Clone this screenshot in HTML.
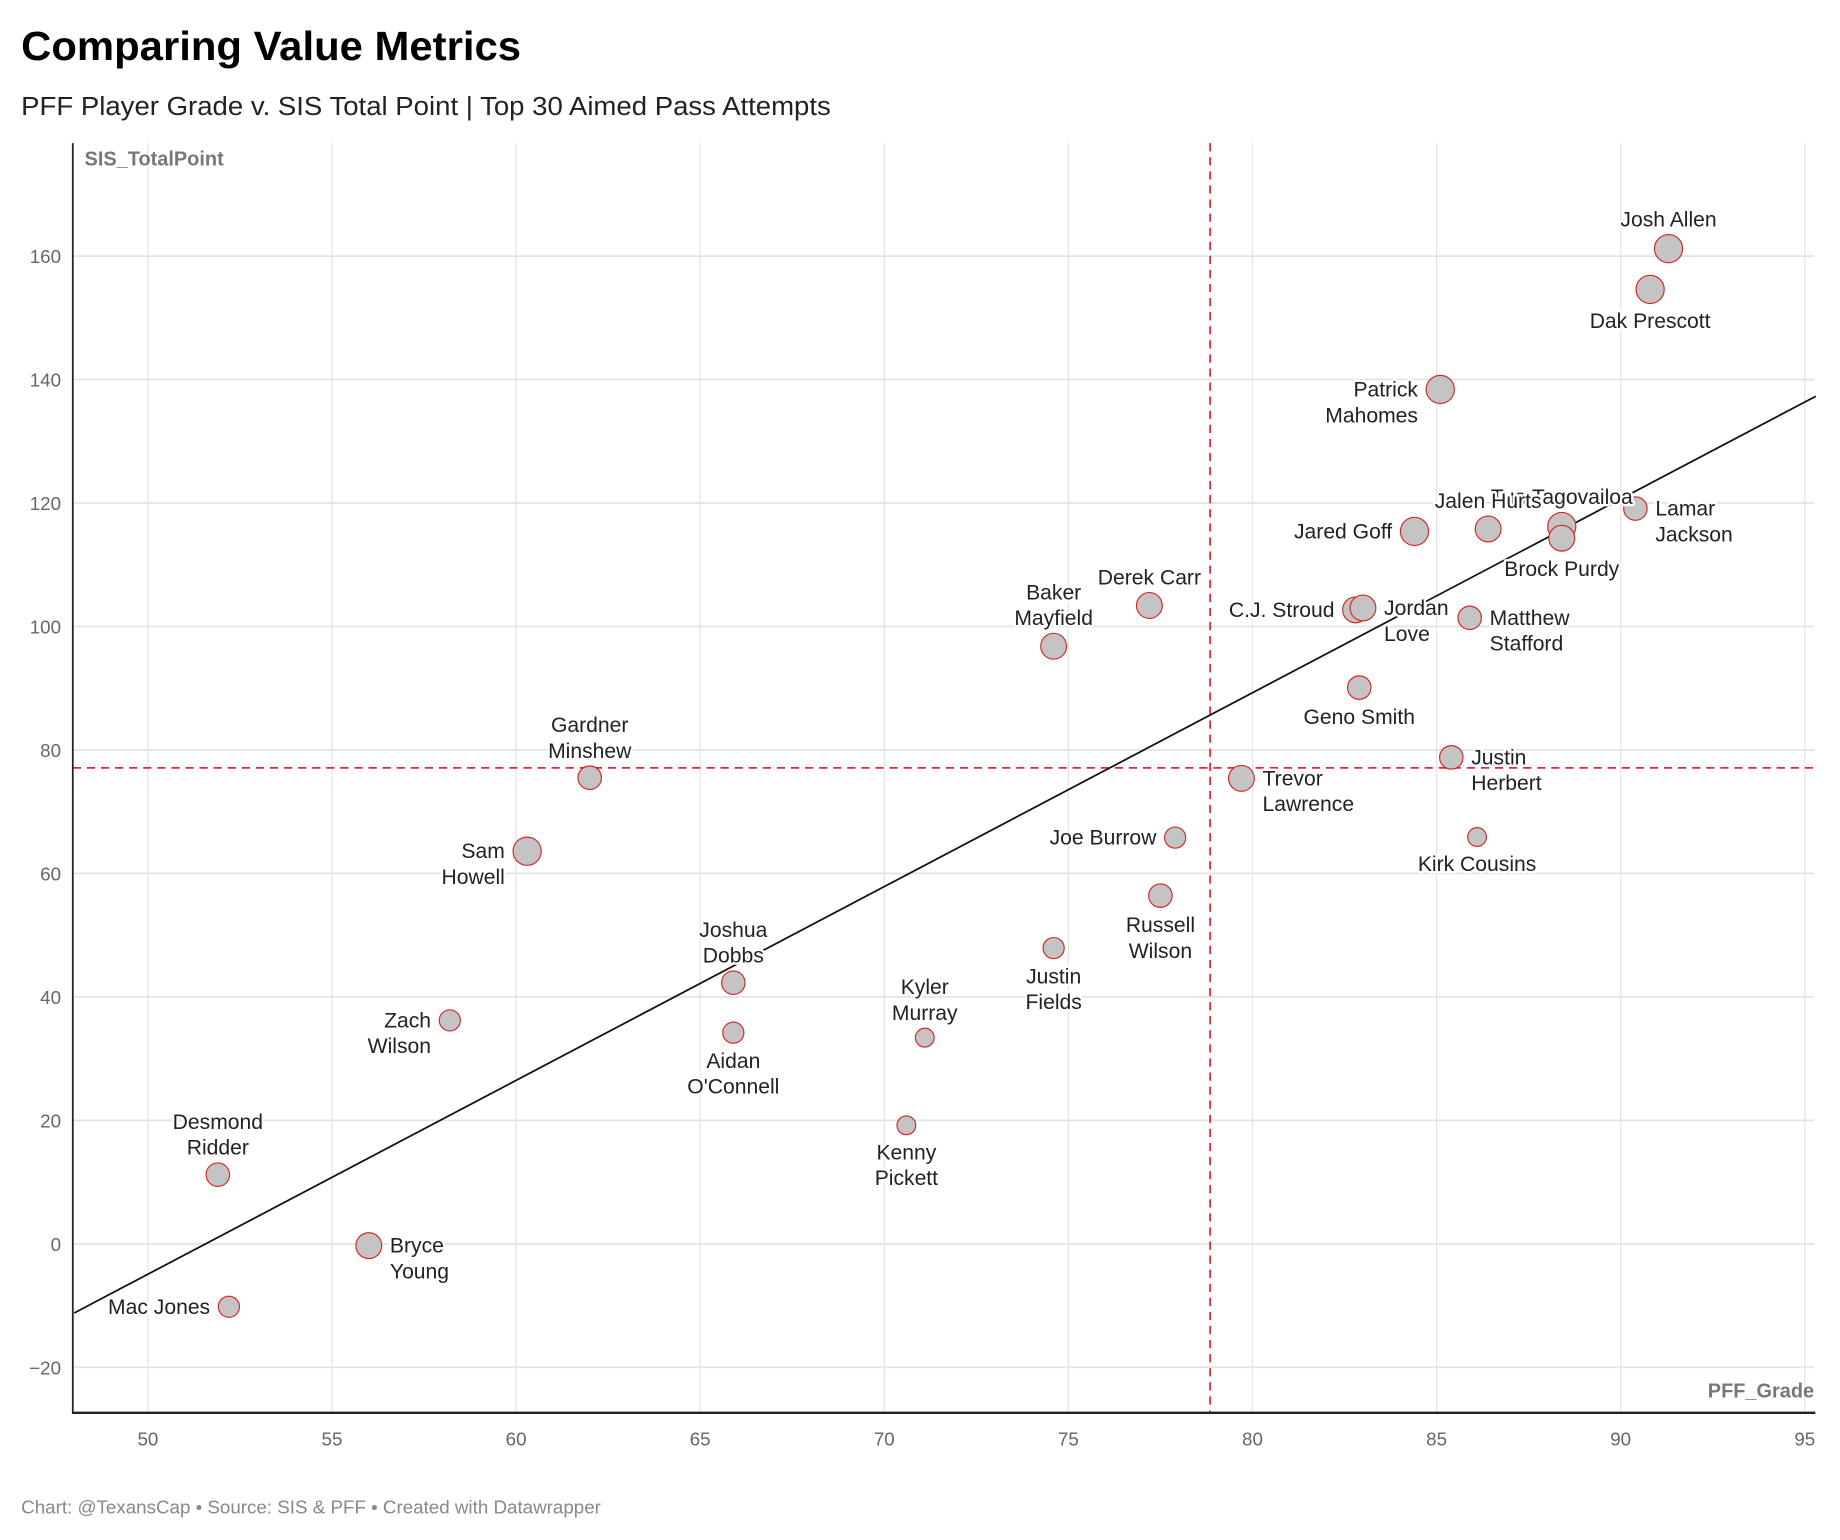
<!DOCTYPE html>
<html><head><meta charset="utf-8"><style>
html,body{margin:0;padding:0;background:#fff;}
svg{display:block;font-family:"Liberation Sans",sans-serif;}
.lbl{font-size:18px;fill:#222;stroke:#fff;stroke-width:4px;paint-order:stroke;stroke-linejoin:round;}
</style></head><body>
<svg id="chart" width="1840" height="1540" viewBox="0 0 1568 1312.4" xmlns="http://www.w3.org/2000/svg">
<text x="18" y="51" font-size="35" font-weight="bold" fill="#000" textLength="426" lengthAdjust="spacingAndGlyphs">Comparing Value Metrics</text>
<text x="18" y="98" font-size="22" fill="#222" textLength="690" lengthAdjust="spacingAndGlyphs">PFF Player Grade v. SIS Total Point | Top 30 Aimed Pass Attempts</text>
<g id="grid"></g>
<g id="refs"></g>
<g id="marks"></g>
<g id="labels"></g>
<line x1="62" y1="122" x2="62" y2="1205" stroke="#222" stroke-width="1.5"/>
<line x1="62" y1="1204" x2="1547" y2="1204" stroke="#222" stroke-width="2"/>
<text x="72" y="141" font-size="17" font-weight="bold" fill="#777">SIS_TotalPoint</text>
<text x="1546" y="1191" font-size="17" font-weight="bold" fill="#777" text-anchor="end">PFF_Grade</text>
<text x="18" y="1290" font-size="16" fill="#888">Chart: @TexansCap • Source: SIS &amp; PFF • Created with Datawrapper</text>
</svg>
<script>
const names = ["Josh Allen","Dak Prescott","Patrick Mahomes","Lamar Jackson","Tua Tagovailoa","Brock Purdy","Jalen Hurts","Jared Goff","C.J. Stroud","Jordan Love","Matthew Stafford","Geno Smith","Justin Herbert","Trevor Lawrence","Kirk Cousins","Derek Carr","Baker Mayfield","Joe Burrow","Russell Wilson","Justin Fields","Kyler Murray","Kenny Pickett","Joshua Dobbs","Aidan O'Connell","Gardner Minshew","Sam Howell","Zach Wilson","Desmond Ridder","Bryce Young","Mac Jones"];
const pffGrade = [91.3,90.8,85.1,90.4,88.4,88.4,86.4,84.4,82.8,83.0,85.9,82.9,85.4,79.7,86.1,77.2,74.6,77.9,77.5,74.6,71.1,70.6,65.9,65.9,62.0,60.3,58.2,51.9,56.0,52.2];
const sisPoints = [161.2,154.6,138.4,119.1,116.2,114.3,115.8,115.4,102.7,103.0,101.4,90.1,78.8,75.4,65.9,103.4,96.8,65.8,56.4,47.9,33.4,19.2,42.3,34.2,75.5,63.6,36.2,11.2,-0.3,-10.2];
const sizes = [12,12,12,10,12,11,11,12,11,11,10,10,10,11,8,11,11,9,10,9,8,8,10,9,10,12,9,10,11,9];
const xTicks = [50,55,60,65,70,75,80,85,90,95];
const yTicks = [-20,0,20,40,60,80,100,120,140,160];
const refX = [78.85];
const refY = [77.1];
const trend = [[48,-11.2],[95.3,137.3]];
// label placement (style): side t=top b=bottom l=left r=right
const labelSide = ["t","b","l","r","t","b","t","l","l","r","r","b","r","r","b","t","t","l","b","b","t","b","t","b","t","l","l","t","r","l"];
const X0=62,X1=1546,Y0=122,Y1=1204;
const xs = v => 126 + (v-50)*31.378;
const ys = v => 1060 - v*5.261;
const NS="http://www.w3.org/2000/svg";
function mk(tag,attrs,parent){const e=document.createElementNS(NS,tag);for(const k in attrs)e.setAttribute(k,attrs[k]);parent.appendChild(e);return e;}
const grid=document.getElementById('grid');
xTicks.forEach(t=>{
  const l=mk('line',{x1:xs(t),x2:xs(t),y1:Y0,y2:Y1,stroke:'#e3e3e3','stroke-width':1},grid);
  
  
  const tx=mk('text',{x:xs(t),y:1232,'font-size':16,fill:'#666','text-anchor':'middle'},grid);
  tx.textContent=t;
  
  
});
yTicks.forEach(t=>{
  const l=mk('line',{x1:X0,x2:X1,y1:ys(t),y2:ys(t),stroke:'#e3e3e3','stroke-width':1.5},grid);
  
  
  const tx=mk('text',{x:52,y:ys(t)+6,'font-size':16,fill:'#666','text-anchor':'end'},grid);
  tx.textContent=t<0?'\u2212'+Math.abs(t):t;
  
  
});
const refs=document.getElementById('refs');
refX.forEach(v=>{
  const l=mk('line',{x1:xs(v),x2:xs(v),y1:Y0,y2:Y1,stroke:'#e8272c','stroke-width':1.5,'stroke-dasharray':'7,5'},refs);
  
  
});
refY.forEach(v=>{
  const l=mk('line',{x1:X0,x2:X1,y1:ys(v),y2:ys(v),stroke:'#e8272c','stroke-width':1.5,'stroke-dasharray':'7,5'},refs);
  
  
});
const tl=mk('line',{x1:xs(trend[0][0]),y1:ys(trend[0][1]),x2:xs(trend[1][0]),y2:ys(trend[1][1]),stroke:'#111','stroke-width':1.5},refs);


const marks=document.getElementById('marks');
names.forEach((n,i)=>{
  const c=mk('circle',{cx:xs(pffGrade[i]),cy:ys(sisPoints[i]),r:sizes[i],fill:'#c4c4c4',stroke:'#d62728','stroke-width':1},marks);
  
  
});
const labels=document.getElementById('labels');
names.forEach((n,i)=>{
  const cx=xs(pffGrade[i]),cy=ys(sisPoints[i]),r=sizes[i],s=labelSide[i];
  const words=n.split(' ');
  let lines=[n];
  if(!["Josh Allen","Dak Prescott","Tua Tagovailoa","Brock Purdy","Jalen Hurts","Jared Goff","C.J. Stroud","Geno Smith","Kirk Cousins","Derek Carr","Joe Burrow","Mac Jones"].includes(n)) lines=[words[0],words.slice(1).join(' ')];
  let x=cx,y,anchor='middle';
  if(s==='t'){y=cy-r-13-(lines.length-1)*22;}
  else if(s==='b'){y=cy+r+15;}
  else if(s==='l'){x=cx-r-7;anchor='end';y=cy;}
  else {x=cx+r+7;anchor='start';y=cy;}
  const t=mk('text',{x:x,y:y+6,'text-anchor':anchor,class:'lbl'},labels);
  
  
  lines.forEach((ln,k)=>{const sp=mk('tspan',{x:x,dy:k?22:0},t);sp.textContent=ln;});
});
</script>
</body></html>
